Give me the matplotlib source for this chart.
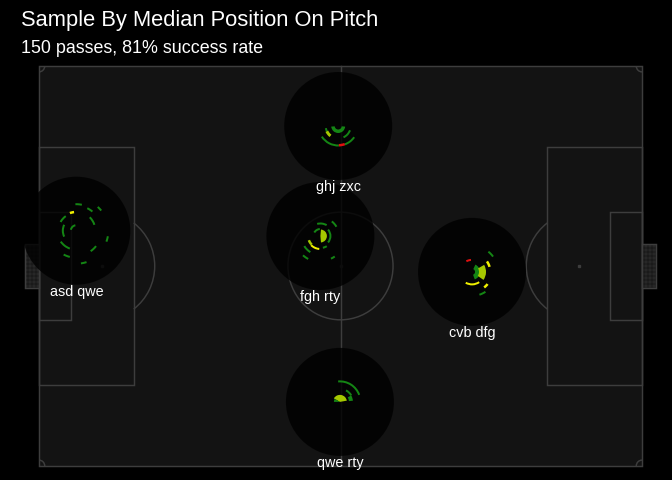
import matplotlib
matplotlib.use("Agg")
import matplotlib.pyplot as plt
from matplotlib.patches import Rectangle, Circle, Arc
import numpy as np

plt.rcParams["font.family"] = ["Liberation Sans", "DejaVu Sans"]
plt.rcParams["hatch.linewidth"] = 0.4

# ================== DATA ==================
players = ["ghj zxc", "asd qwe", "fgh rty", "cvb dfg", "qwe rty"]
pos_x = [52.1, 6.5, 49.0, 75.4, 52.4]      # median position (m)
pos_y = [57.8, 40.0, 39.1, 33.0, 10.9]

# sonar segments: (angle from, angle to, r inner, r outer, colour)
ghj_arcs = [
    (185, 355, 3.5, 7, "g"),
    (190, 205, 11.5, 13.5, "g"),
    (205, 232, 11, 14, "yg"),
    (-65, -20, 11.5, 13.5, "g"),
    (213, 272, 18.5, 20.5, "g"),
    (272, 290, 18, 20.5, "r"),
    (290, 325, 18.5, 20.5, "g"),
]
asd_arcs = [
    (100, 170, 4.5, 6.5, "g"),
    (154, 206, 12.5, 14.5, "g"),
    (126, 151, 17, 19, "g"),
    (97, 110, 17.5, 20, "y"),
    (78, 92, 25.5, 27.5, "g"),
    (50, 64, 24, 26, "g"),
    (39, 48, 31, 33, "g"),
    (18, 45, 18, 20, "g"),
    (-20, -10, 31, 33, "g"),
    (-55, -38, 24, 26, "g"),
    (-82, -72, 32, 34, "g"),
    (-118, -104, 26, 28, "g"),
    (215, 250, 18, 20, "g"),
]
fgh_arcs = [
    (-85, 85, 0, 6.5, "yg"),
    (95, 150, 6, 8, "g"),
    (60, 105, 11.5, 13.5, "g"),
    (-40, 40, 9, 11, "g"),
    (30, 52, 17.5, 19.5, "g"),
    (200, 225, 11, 13.5, "yg"),
    (225, 265, 12, 14, "y"),
    (212, 238, 18, 20, "g"),
    (228, 242, 25, 27, "g"),
    (-78, -58, 11, 13, "g"),
    (-65, -55, 24, 26, "g"),
]
cvb_arcs = [
    (95, 118, 11, 13, "r"),
    (36, 51, 25, 27, "g"),
    (16, 35, 17, 19.5, "y"),
    (-70, 65, 3, 8, "g"),
    (-35, 30, 7, 14, "yg"),
    (240, 305, 11.5, 13.5, "y"),
    (-52, -38, 18.5, 21, "y"),
    (-72, -56, 23, 25, "g"),
]
qwe_arcs = [
    (10, 150, 0, 7, "yg"),
    (150, 180, 0, 6, "g"),
    (5, 30, 9, 13, "g"),
    (30, 62, 12, 14, "g"),
    (20, 95, 19.5, 21.5, "g"),
]
sonars = [ghj_arcs, asd_arcs, fgh_arcs, cvb_arcs, qwe_arcs]

title = "Sample By Median Position On Pitch"
subtitle = "150 passes, 81% success rate"

COLORS = {"g": "#148514", "yg": "#a5c800", "y": "#f0f000", "r": "#e01010"}
LINE = "#3d3d3d"

# ================== FIGURE / PITCH ==================
W, H = 672, 480
SX, SY = 603 / 105, 400 / 68   # px per metre
fig = plt.figure(figsize=(W / 96, H / 96), dpi=96, facecolor="black")
ax = fig.add_axes([0, 0, 1, 1])
ax.set_xlim(-39 / SX, (W - 39) / SX)
ax.set_ylim(-(H - 466) / SY, 68 + 66 / SY)
ax.axis("off")

ax.add_patch(Rectangle((0, 0), 105, 68, facecolor="#131313", edgecolor=LINE, lw=1.1, zorder=1))
ax.plot([52.5, 52.5], [0, 68], color=LINE, lw=1.1, zorder=2)
ax.add_patch(Circle((52.5, 34), 9.15, fill=False, edgecolor=LINE, lw=1.1, zorder=2))

for x0, sgn in [(0, 1), (105, -1)]:
    bx = x0 if sgn == 1 else x0 - 16.5
    ax.add_patch(Rectangle((bx, 13.84), 16.5, 40.32, fill=False, edgecolor=LINE, lw=1.1, zorder=2))
    sx = x0 if sgn == 1 else x0 - 5.5
    ax.add_patch(Rectangle((sx, 24.84), 5.5, 18.32, fill=False, edgecolor=LINE, lw=1.1, zorder=2))
    spot = x0 + sgn * 11
    ax.plot(spot, 34, "s", ms=1.5, color=LINE, zorder=2)
    t1, t2 = (-53.13, 53.13) if sgn == 1 else (126.87, 233.13)
    ax.add_patch(Arc((spot, 34), 18.3, 18.3, theta1=t1, theta2=t2, edgecolor=LINE, lw=1.1, zorder=2))
    gx = x0 - 2.44 if sgn == 1 else x0
    ax.add_patch(Rectangle((gx, 30.34), 2.44, 7.32, facecolor="#1a1a1a", edgecolor="#333333",
                           hatch="++++", lw=0, zorder=2))
    ax.add_patch(Rectangle((gx, 30.34), 2.44, 7.32, fill=False, edgecolor=LINE, lw=1.1, zorder=2))
ax.plot(52.5, 34, "s", ms=1.5, color=LINE, zorder=2)

for (cx, cy), t1 in [((0, 0), 0), ((0, 68), 270), ((105, 0), 90), ((105, 68), 180)]:
    ax.add_patch(Arc((cx, cy), 2, 2, theta1=t1, theta2=t1 + 90, edgecolor=LINE, lw=1.1, zorder=2))

# ================== SONARS ==================
R = 54  # circle radius in px
for name, x, y, arcs in zip(players, pos_x, pos_y, sonars):
    px, py = ax.transData.transform((x, y))
    pax = fig.add_axes([(px - R) / W, (py - R) / H, 2 * R / W, 2 * R / H], projection="polar")
    pax.set_facecolor((0, 0, 0, 0.8))
    pax.set_ylim(0, R)
    pax.set_xticks([])
    pax.set_yticks([])
    pax.grid(False)
    pax.spines["polar"].set_visible(False)
    for t1, t2, r0, r1, c in arcs:
        pax.bar(np.deg2rad((t1 + t2) / 2), r1 - r0, width=np.deg2rad(t2 - t1), bottom=r0,
                color=COLORS[c], linewidth=0)
    fig.text(x, y - 65 / SY, name, transform=ax.transData, ha="center", va="baseline",
             color="white", fontsize=10.8, zorder=5)

# ================== TITLES ==================
fig.text(21 / W, 1 - 25.7 / H, title, color="white", fontsize=16.4, va="baseline")
fig.text(21 / W, 1 - 53 / H, subtitle, color="white", fontsize=13.4, va="baseline")

fig.savefig("out.png", dpi=96, facecolor="black")
